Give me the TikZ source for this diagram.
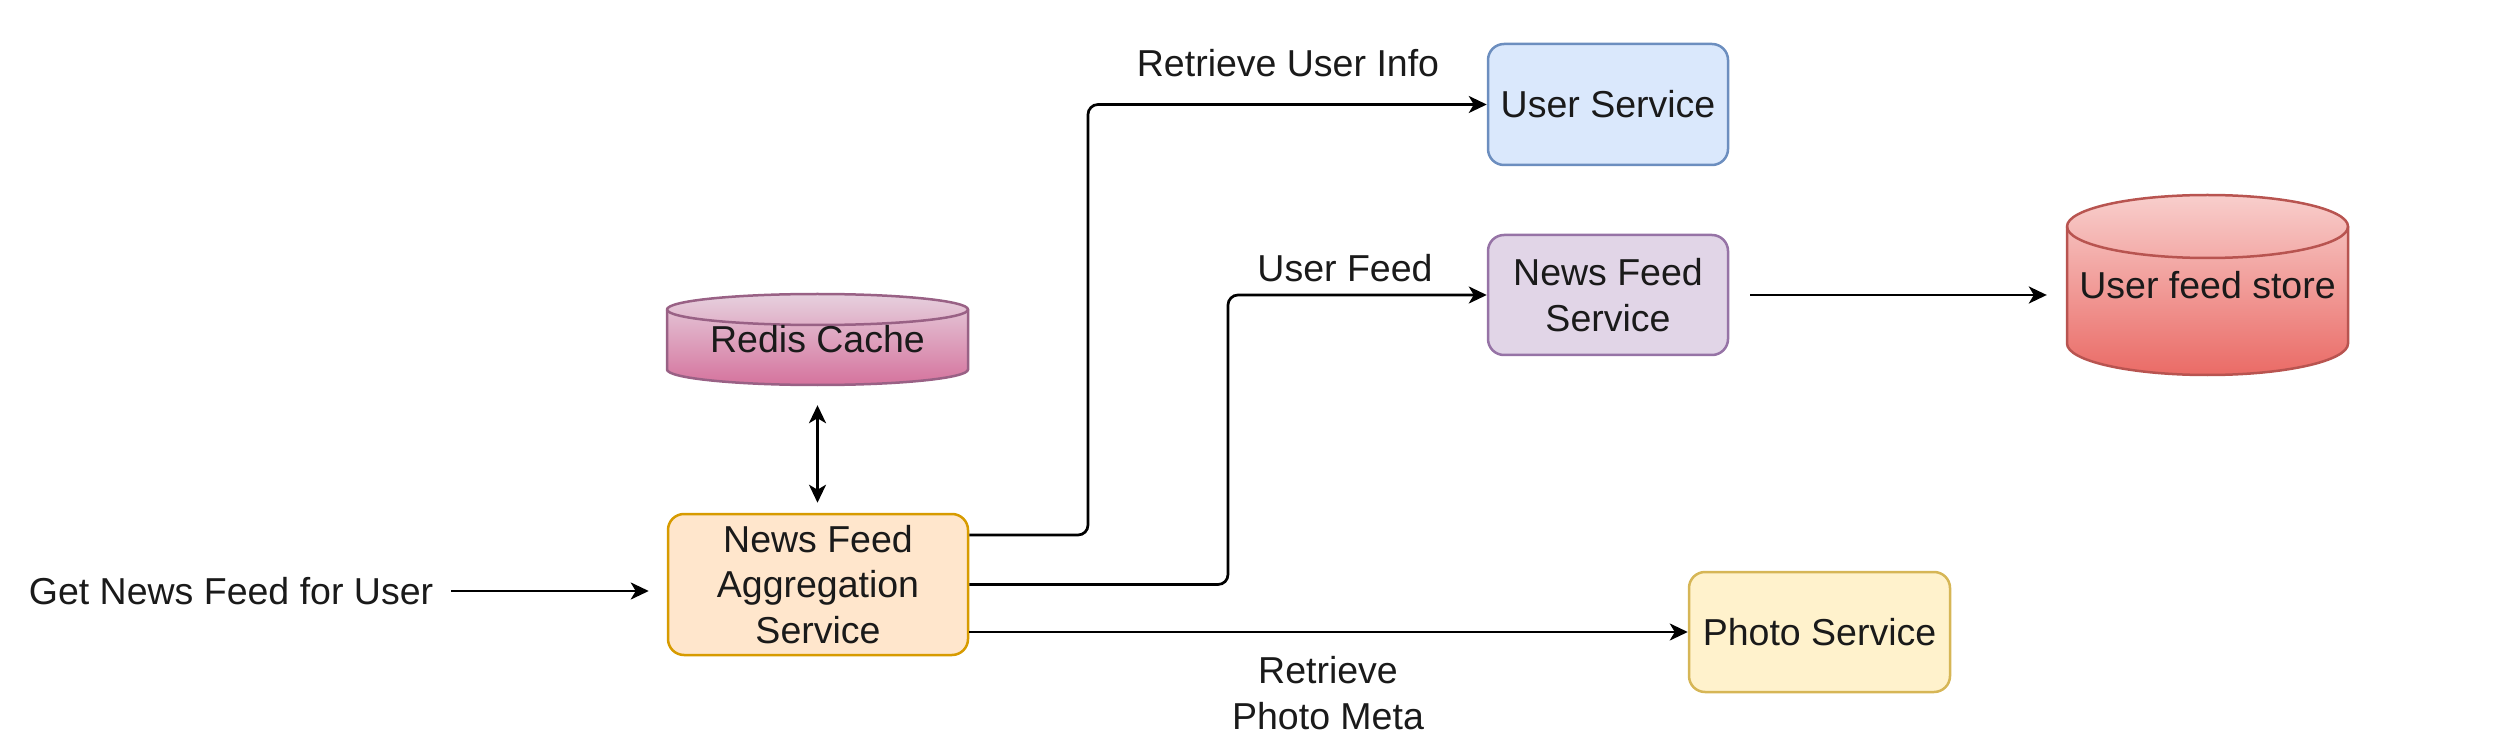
\documentclass[tikz,border=0pt]{standalone}
\usepackage{fontspec}
\setmainfont{Liberation Sans}
\usetikzlibrary{arrows.meta}
\definecolor{aggfill}{HTML}{FFE6CC}
\definecolor{aggdraw}{HTML}{D79B00}
\definecolor{userfill}{HTML}{DAE8FC}
\definecolor{userdraw}{HTML}{6C8EBF}
\definecolor{nfsfill}{HTML}{E1D5E7}
\definecolor{nfsdraw}{HTML}{9673A6}
\definecolor{photofill}{HTML}{FFF2CC}
\definecolor{photodraw}{HTML}{D6B656}
\definecolor{redistop}{HTML}{E6D0DE}
\definecolor{redisbot}{HTML}{D5739D}
\definecolor{redisdraw}{HTML}{996185}
\definecolor{storetop}{HTML}{F8CECC}
\definecolor{storebot}{HTML}{EA6B66}
\definecolor{storedraw}{HTML}{B85450}
\definecolor{txt}{HTML}{1A1A1A}
\begin{document}
\begin{tikzpicture}[x=1pt,y=1pt,
  every node/.style={font=\fontsize{37.5}{45.5}\selectfont, text=txt},
  svc/.style={draw, rounded corners=16pt, line width=2.5pt, align=center, inner sep=0pt},
  arr/.style={line width=2.7pt, -{Stealth[length=18pt,width=17pt,inset=5pt]}},
  darr/.style={line width=2.7pt, {Stealth[length=18pt,width=17pt,inset=5pt]}-{Stealth[length=18pt,width=17pt,inset=5pt]}},
  cyl/.style={line width=2.5pt}
]
\useasboundingbox (0,0) rectangle (2502,748);

% Redis cylinder
\path[cyl, draw=redisdraw, top color=redistop, bottom color=redisbot]
  (667,438.5) -- (667,378.5) arc[start angle=180, end angle=360, x radius=150.5, y radius=15.5]
  -- (968,438.5) arc[start angle=0, end angle=180, x radius=150.5, y radius=15.5] -- cycle;
\draw[cyl, draw=redisdraw] (667,438.5) arc[start angle=180, end angle=360, x radius=150.5, y radius=15.5];
\node[inner sep=0pt, minimum width=301pt, minimum height=91pt] (redis) at (817.5,408.5) {Redis Cache};

% User feed store cylinder
\path[cyl, draw=storedraw, top color=storetop, bottom color=storebot]
  (2067,521.5) -- (2067,404.5) arc[start angle=180, end angle=360, x radius=140.5, y radius=31.5]
  -- (2348,521.5) arc[start angle=0, end angle=180, x radius=140.5, y radius=31.5] -- cycle;
\draw[cyl, draw=storedraw] (2067,521.5) arc[start angle=180, end angle=360, x radius=140.5, y radius=31.5];
\node[inner sep=0pt, minimum width=281pt, minimum height=180pt] (store) at (2207.5,463) {User feed store};

% Service boxes
\node[svc, draw=aggdraw, fill=aggfill, minimum width=300pt, minimum height=141pt] (agg) at (818,163.5) {News Feed\\Aggregation\\Service};
\node[svc, draw=userdraw, fill=userfill, minimum width=240pt, minimum height=121pt] (user) at (1608,643.5) {User Service};
\node[svc, draw=nfsdraw, fill=nfsfill, minimum width=240pt, minimum height=120pt] (nfs) at (1608,453) {News Feed\\Service};
\node[svc, draw=photodraw, fill=photofill, minimum width=261pt, minimum height=120pt] (photo) at (1819.5,116) {Photo Service};

% Request text
\node[inner sep=0pt] (req) at (231,157) {Get News Feed for User};

% Labels
\node (lbluser) at (1288,685) {Retrieve User Info};
\node (lblfeed) at (1345,480) {User Feed};
\node[align=center] (lblphoto) at (1328,55) {Retrieve\\Photo Meta};

% Bend coordinates
\coordinate (v1) at (1088,0);
\coordinate (v2) at (1228,0);

% Connectors
\draw[arr, shorten <=18pt, shorten >=18pt] (req.east) -- (req.east -| agg.west);
\draw[darr, shorten <=20pt, shorten >=10pt] (redis.south) -- (redis.south |- agg.north);
\draw[arr, rounded corners=10pt] ([yshift=49.5pt]agg.east) -- ([yshift=49.5pt]agg.east -| v1) |- (user.west);
\draw[arr, rounded corners=10pt] (agg.east) -- (agg.east -| v2) |- (nfs.west);
\draw[arr] (agg.east |- photo.west) -- (photo.west);
\draw[arr, shorten <=21pt, shorten >=20pt] (nfs.east) -- (nfs.east -| store.west);
\end{tikzpicture}
\end{document}
